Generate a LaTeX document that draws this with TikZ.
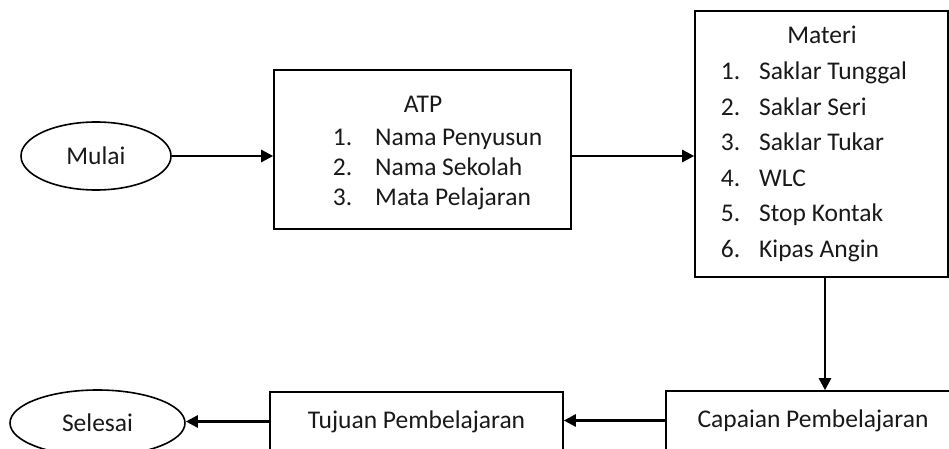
\documentclass[tikz,border=0pt]{standalone}
\usepackage{fontspec}
\setmainfont{Carlito}
\usetikzlibrary{shapes.geometric,arrows.meta}
\newcommand{\teks}{\fontsize{25.5}{30}\selectfont}

\begin{document}
\begin{tikzpicture}[x=1pt,y=1pt,
    every node/.style={font=\teks, text=black!90, inner sep=0pt},
    kotak/.style={draw, line width=1.6pt},
    lonjong/.style={draw, ellipse, line width=1.6pt},
    panah/.style={line width=2.6pt, -{Triangle[length=12pt,width=12pt]}}]
  \useasboundingbox (0,0) rectangle (949,448);
  % start / end
  \node[lonjong, minimum width=150pt, minimum height=68pt] (mulai) at (96,292) {Mulai};
  \node[lonjong, minimum width=175pt, minimum height=66pt] (selesai) at (97.5,25) {Selesai};
  % ATP box
  \node[kotak, minimum width=297pt, minimum height=159pt] (atp) at (422.5,298.5) {};
  \node[anchor=base] (atpjudul) at (423,335) {ATP};
  \foreach \isi [count=\n] in {Nama Penyusun, Nama Sekolah, Mata Pelajaran} {
    \node[anchor=base west] (atpno\n) at (332.7,{303-30*(\n-1)}) {\n.};
    \node[anchor=base west] (atpisi\n) at (375,{303-30*(\n-1)}) {\isi};
  }
  % Materi box
  \node[kotak, minimum width=253pt, minimum height=266pt] (materi) at (821.5,304) {};
  \node[anchor=base] (materijudul) at (822,404) {Materi};
  \foreach \isi [count=\n] in {Saklar Tunggal, Saklar Seri, Saklar Tukar, WLC, Stop Kontak, Kipas Angin} {
    \node[anchor=base west] (materino\n) at (720.7,{368-35.4*(\n-1)}) {\n.};
    \node[anchor=base west] (materiisi\n) at (759,{368-35.4*(\n-1)}) {\isi};
  }
  % bottom row
  \node[kotak, minimum width=294pt, minimum height=59pt] (capaian) at (813,27.5) {Capaian Pembelajaran};
  \node[kotak, minimum width=293pt, minimum height=59pt] (tujuan) at (416.5,26.5) {Tujuan Pembelajaran};
  % arrows
  \draw[panah] (mulai.east) -- (mulai.east -| atp.west);
  \draw[panah] (atp.east |- mulai.east) -- (materi.west |- mulai.east);
  \draw[panah] ([xshift=3.5pt]materi.south) -- ([xshift=3.5pt]materi.south |- capaian.north);
  \draw[panah] (capaian.west) -- (capaian.west -| tujuan.east);
  \draw[panah] (tujuan.west) -- (tujuan.west -| selesai.east);
\end{tikzpicture}
\end{document}
